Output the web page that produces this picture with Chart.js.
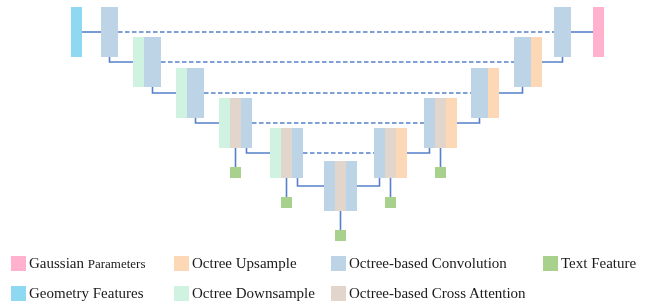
<!DOCTYPE html>
<html>
<head>
<meta charset="utf-8">
<script src="https://cdn.jsdelivr.net/npm/chart.js@4.4.0/dist/chart.umd.min.js"></script>
<style>
  html, body { margin: 0; padding: 0; background: #fff; }
  #wrap { position: relative; width: 651px; height: 303px; overflow: hidden; }
  #diagram { position: absolute; left: 0; top: 0; }
  .leg { position: absolute; height: 15px; font-family: 'Liberation Serif', 'Times New Roman', serif;
         font-size: 15px; line-height: 15px; color: #1a1a1a; white-space: nowrap; }
  .leg i { position: absolute; left: 0; top: 0; width: 15px; height: 15px; }
  .leg span { position: absolute; left: 18px; top: 0; }
  .leg small { font-size: 13px; }
</style>
</head>
<body>
<div id="wrap">
  <canvas id="diagram" width="651" height="303"></canvas>
</div>
<script>
// U-Net style octree network diagram

// block contents per stage (c = conv, d = downsample, a = cross attention, u = upsample)
const encoderStages = [['c'], ['d', 'c'], ['d', 'c'], ['d', 'a', 'c'], ['d', 'a', 'c']];
const bottleneck = ['c', 'a', 'c'];
const decoderStages = [['c', 'a', 'u'], ['c', 'a', 'u'], ['c', 'u'], ['c', 'u'], ['c']]; // deep -> shallow
const inputStage = ['g'];
const outputStage = ['p'];

// legend
const legendKinds = ['p', 'u', 'c', 't', 'g', 'd', 'a'];
const legendLabels = ['Gaussian Parameters', 'Octree Upsample', 'Octree-based Convolution', 'Text Feature',
                      'Geometry Features', 'Octree Downsample', 'Octree-based Cross Attention'];

// colours
const COLORS = {
    g: '#8ED8F1', c: '#BDD4E7', d: '#D0F2E0', a: '#E2D5CB',
    u: '#FDD8B6', p: '#FFB1CD', t: '#A9D18E'
};
const LINE = 'rgba(68, 114, 196, 0.9)';

// layout
const LEVEL_TOP = [7, 37, 68, 98, 128, 161];
const BLOCK_H = 50;
const ENC_X = [101, 133, 176, 219, 270];
const MID_X = 324;
const DEC_X = [374, 424, 471, 514, 554];
const IN_X = 71, OUT_X = 593;
const TEXT_GAP = 19, TEXT_H = 11;
const LEG_X = [11, 174, 331, 543];
const LEG_Y = [256, 286];

function segWidth(kind, segs) {
    if (kind === 'c' && !segs.includes('a')) return 17;
    return 11;
}

function makeBlock(x0, level, segs) {
    let x = x0;
    const parts = [];
    segs.forEach(k => {
        const w = segWidth(k, segs);
        parts.push({ kind: k, x0: x, x1: x + w });
        x += w;
    });
    const top = LEVEL_TOP[level];
    return { level, top, bottom: top + BLOCK_H, mid: top + BLOCK_H / 2, x0, x1: x, parts };
}

const enc = encoderStages.map((s, i) => makeBlock(ENC_X[i], i, s));
const mid = makeBlock(MID_X, 5, bottleneck);
const dec = decoderStages.map((s, j) => makeBlock(DEC_X[j], 4 - j, s));
const inp = makeBlock(IN_X, 0, inputStage);
const out = makeBlock(OUT_X, 0, outputStage);
const blocks = [inp, ...enc, mid, ...dec, out];

const center = p => (p.x0 + p.x1) / 2;

// rectangle = two-point line filled down to a value
const rect = (x0, x1, y0, y1, color) => ({
    data: [{ x: x0, y: y0 }, { x: x1, y: y0 }],
    fill: { value: y1 },
    backgroundColor: color,
    borderColor: 'transparent',
    borderWidth: 0,
    pointRadius: 0
});

const path = (pts, dash) => ({
    data: pts.map(([x, y]) => ({ x, y })),
    fill: false,
    borderColor: LINE,
    borderWidth: 1.6,
    borderDash: dash || [],
    pointRadius: 0,
    tension: 0
});

const lines = [];
const shapes = [];

// input / output
lines.push(path([[inp.x1, inp.mid], [enc[0].x0, enc[0].mid]]));
lines.push(path([[dec[4].x1, out.mid], [out.x0, out.mid]]));

// encoder going down
const downChain = [...enc, mid];
for (let i = 0; i < downChain.length - 1; i++) {
    const a = downChain[i], b = downChain[i + 1];
    const cx = center(a.parts[a.parts.length - 1]);
    lines.push(path([[cx, a.bottom], [cx, b.mid], [b.x0, b.mid]]));
}

// decoder going up
const upChain = [mid, ...dec];
for (let i = 0; i < upChain.length - 1; i++) {
    const a = upChain[i], b = upChain[i + 1];
    const cx = center(b.parts[0]);
    lines.push(path([[a.x1, a.mid], [cx, a.mid], [cx, b.bottom]]));
}

// skip connections
enc.forEach((a, i) => {
    const b = dec[4 - i];
    lines.push(path([[a.x1, a.mid], [b.x0, b.mid]], [4.5, 2.5]));
});

// blocks and text features
blocks.forEach(b => {
    b.parts.forEach(p => {
        shapes.push(rect(p.x0, p.x1, b.top, b.bottom, COLORS[p.kind]));
        if (p.kind === 'a') {
            const cx = center(p);
            const ty = b.bottom + TEXT_GAP;
            lines.push(path([[cx, b.bottom], [cx, ty]]));
            shapes.push(rect(p.x0, p.x1, ty, ty + TEXT_H, COLORS.t));
        }
    });
});

new Chart(document.getElementById('diagram').getContext('2d'), {
    type: 'line',
    data: { datasets: [...lines, ...shapes] },
    options: {
        responsive: false,
        animation: false,
        layout: { padding: 0 },
        scales: {
            x: { type: 'linear', min: 0, max: 651, display: false },
            y: { type: 'linear', min: 0, max: 303, reverse: true, display: false }
        },
        plugins: {
            legend: { display: false },
            tooltip: { enabled: false }
        }
    }
});

// legend (html, two rows)
const wrap = document.getElementById('wrap');
legendLabels.forEach((label, i) => {
    const row = i < 4 ? 0 : 1;
    const col = i < 4 ? i : i - 4;
    const el = document.createElement('div');
    el.className = 'leg';
    el.style.left = LEG_X[col] + 'px';
    el.style.top = LEG_Y[row] + 'px';
    const sw = document.createElement('i');
    sw.style.background = COLORS[legendKinds[i]];
    const tx = document.createElement('span');
    // "Parameters" is set a size smaller in the original
    if (label.endsWith('Parameters')) {
        tx.append(label.replace('Parameters', ''));
        const sm = document.createElement('small');
        sm.textContent = 'Parameters';
        tx.append(sm);
    } else {
        tx.textContent = label;
    }
    el.append(sw, tx);
    wrap.append(el);
});
</script>
</body>
</html>
